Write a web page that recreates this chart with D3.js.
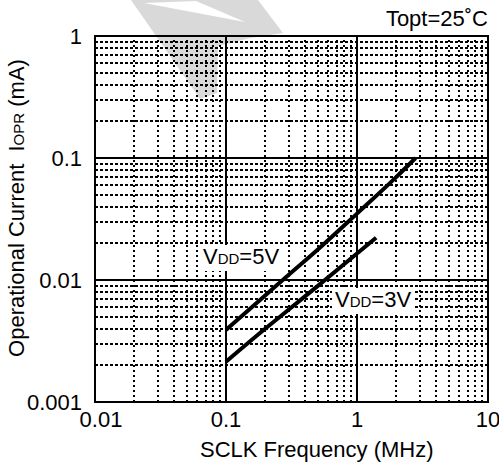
<!DOCTYPE html>
<html><head><meta charset="utf-8">
<script src="https://cdn.jsdelivr.net/npm/d3@7"></script>
<style>
html,body{margin:0;padding:0;background:#fff;}
svg{display:block;font-family:"Liberation Sans",Arial,sans-serif;}
</style></head>
<body>
<script>
// ---- data ----
const xTickValues = [0.01, 0.1, 1, 10];
const xTickLabels = ["0.01", "0.1", "1", "10"];
const yTickValues = [0.001, 0.01, 0.1, 1];
const yTickLabels = ["0.001", "0.01", "0.1", "1"];
const freq5V = [0.1, 0.2, 0.3, 0.5, 1, 2, 2.8];
const iopr5V = [0.0039, 0.0075, 0.011, 0.0177, 0.035, 0.07, 0.1];
const freq3V = [0.1, 0.2, 0.3, 0.5, 1, 1.4];
const iopr3V = [0.00214, 0.004, 0.0057, 0.0089, 0.0165, 0.0222];
const seriesNames = ["5V", "3V"];
const xTitle = "SCLK Frequency (MHz)";
const conditionText = "Topt=25\u02DAC";

const W = 499, H = 462;
const svg = d3.select("body").append("svg").attr("width", W).attr("height", H);

const x = d3.scaleLog().domain([0.01, 10]).range([95, 488]);
const y = d3.scaleLog().domain([0.001, 1]).range([402, 36]);
const px = v => Math.round(v);

// watermark (light grey shape behind grid)
svg.append("path")
  .attr("d", "M131,0 L258,0 L283,33 L250,38 L218,46 L217,93 L200,99 Z")
  .attr("fill", "#d9d9d9");
svg.append("path")
  .attr("d", "M144,3 L196,1 L245,22 Z")
  .attr("fill", "#fff");

// minor grid
const xMinor = [], yMinor = [];
[0.01, 0.1, 1].forEach(d => { for (let k = 2; k <= 9; k++) xMinor.push(d * k); });
[0.001, 0.01, 0.1].forEach(d => { for (let k = 2; k <= 9; k++) yMinor.push(d * k); });

const grid = svg.append("g").attr("shape-rendering", "crispEdges");
grid.selectAll("line.hm").data(yMinor).join("line")
  .attr("x1", x.range()[0]).attr("x2", x.range()[1])
  .attr("y1", d => px(y(d))).attr("y2", d => px(y(d)))
  .attr("stroke", "#000").attr("stroke-width", 2).attr("stroke-dasharray", "3,2");
grid.selectAll("line.vm").data(xMinor).join("line")
  .attr("y1", y.range()[0]).attr("y2", y.range()[1])
  .attr("x1", d => px(x(d))).attr("x2", d => px(x(d)))
  .attr("stroke", "#000").attr("stroke-width", 2).attr("stroke-dasharray", "2,3");

// major grid
grid.selectAll("line.hM").data(yTickValues).join("line")
  .attr("x1", x.range()[0]).attr("x2", x.range()[1])
  .attr("y1", d => px(y(d))).attr("y2", d => px(y(d)))
  .attr("stroke", "#000").attr("stroke-width", 2);
grid.selectAll("line.vM").data(xTickValues).join("line")
  .attr("y1", y.range()[0]).attr("y2", y.range()[1])
  .attr("x1", d => px(x(d))).attr("x2", d => px(x(d)))
  .attr("stroke", "#000").attr("stroke-width", 2);

// frame
svg.append("rect")
  .attr("x", x.range()[0]).attr("y", y.range()[1])
  .attr("width", x.range()[1] - x.range()[0]).attr("height", y.range()[0] - y.range()[1])
  .attr("fill", "none").attr("stroke", "#000").attr("stroke-width", 2)
  .attr("shape-rendering", "crispEdges");

// curves
const line = d3.line().x(d => x(d[0])).y(d => y(d[1])).curve(d3.curveMonotoneX);
const series = [d3.zip(freq5V, iopr5V), d3.zip(freq3V, iopr3V)];
svg.selectAll("path.curve").data(series).join("path")
  .attr("class", "curve")
  .attr("d", line).attr("fill", "none").attr("stroke", "#000")
  .attr("stroke-width", 4).attr("stroke-linecap", "butt");

// series labels with white background
function vddLabel(lx, ly, name) {
  const g = svg.append("g");
  const t = g.append("text").attr("x", lx).attr("y", ly)
    .attr("font-size", 22).attr("fill", "#000");
  t.append("tspan").text("V");
  t.append("tspan").attr("font-size", 15).text("DD");
  t.append("tspan").text("=" + name);
  const b = t.node().getBBox();
  g.insert("rect", "text").attr("x", b.x - 3).attr("y", b.y + 1)
    .attr("width", b.width + 6).attr("height", b.height + 1).attr("fill", "#fff");
}
vddLabel(203, 264, seriesNames[0]);
vddLabel(335, 307, seriesNames[1]);

// tick labels
svg.selectAll("text.xt").data(xTickValues).join("text")
  .attr("x", (d, i) => x(d) + (i === 0 ? 6 : 0)).attr("y", 427)
  .attr("text-anchor", "middle").attr("font-size", 22).text((d, i) => xTickLabels[i]);
svg.selectAll("text.yt").data(yTickValues).join("text")
  .attr("x", 82).attr("y", d => y(d) + 7.5)
  .attr("text-anchor", "end").attr("font-size", 22).text((d, i) => yTickLabels[i]);

// axis titles
svg.append("text").attr("x", 200).attr("y", 457).attr("font-size", 22).text(xTitle);
const yt = svg.append("text").attr("transform", "translate(24,208) rotate(-90)")
  .attr("text-anchor", "middle").attr("font-size", 22);
yt.append("tspan").text("Operational Current\u00a0 I");
yt.append("tspan").attr("font-size", 15).text("OPR");
yt.append("tspan").text(" (mA)");

svg.append("text").attr("x", 488).attr("y", 26).attr("text-anchor", "end")
  .attr("font-size", 22).text(conditionText);
</script>
</body></html>
